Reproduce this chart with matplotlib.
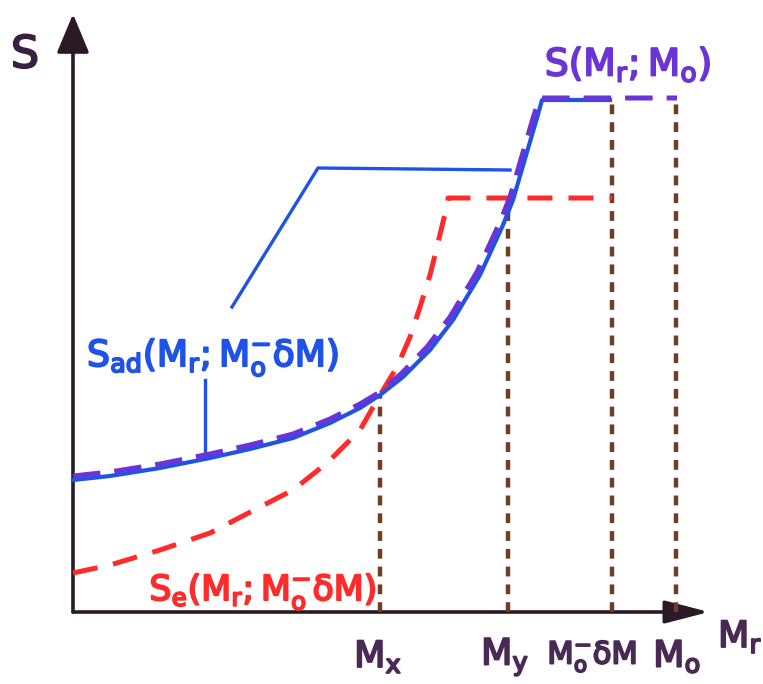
import matplotlib.pyplot as plt
import matplotlib.patheffects as pe
from matplotlib.patches import FancyArrowPatch

plt.rcParams['mathtext.fontset'] = 'dejavusans'

# schematic coordinates: origin at the axes corner, S upward, M_r to the right

# S_ad(M_r; M_o - dM), solid blue, saturating at the top level
ad_px = [0, 37, 87, 137, 177, 220, 257, 287, 307, 330, 357, 380, 407, 430, 440, 454, 464, 469, 537]
ad_s = [132, 136, 144, 154, 163, 174, 189, 204, 217, 235, 262, 292, 337, 387, 412, 460, 494, 512, 512]

# S(M_r; M_o), dashed purple
full_px = [0, 37, 87, 137, 177, 220, 257, 287, 307, 328, 354, 377, 404, 427, 437, 451, 461, 467, 604]
full_s = [136, 140, 148, 158, 167, 178, 193, 208, 220, 238, 265, 295, 340, 390, 415, 463, 497, 514, 514]

# S_e(M_r; M_o - dM), dashed red
e_px = [0, 37, 87, 137, 187, 220, 254, 287, 307, 324, 337, 347, 357, 364, 370, 375, 375, 539]
e_s = [39, 47, 62, 79, 105, 122, 149, 182, 217, 245, 275, 305, 337, 365, 390, 409, 414, 414]

# markers on the M_r axis and the tops of their dotted guides
mark_x = [307, 435, 539, 603]
mark_top = [217, 414, 512, 514]
label_x = [305, 432, 519, 604]
mark_labels = [r'$\mathrm{M_x}$', r'$\mathrm{M_y}$',
               r'$\mathrm{M_o^{-}δM}$', r'$\mathrm{M_o}$']
label_size = [26, 26, 22, 26]

# leader line for the adiabatic-curve label
leader_x = [159, 245, 437]
leader_y = [305, 444, 442]
stub_x = [132, 132]
stub_y = [232, 160]

fig = plt.figure(figsize=(7.63, 6.84), dpi=100)
ax = fig.add_axes([0, 0, 1, 1])
ax.set_xlim(-73, 690)
ax.set_ylim(-72, 612)
ax.axis('off')

ink = '#2b1a26'
blue = '#1f52e6'
purple = '#6a34d6'
red = '#ff2b2b'
brown = '#6e3f22'
label_ink = '#4a2a55'

# axes drawn as arrows
ax.add_patch(FancyArrowPatch((0, 0), (0, 598), arrowstyle='-|>,head_length=24,head_width=10',
                             mutation_scale=1, color=ink, lw=2.6, shrinkA=0, shrinkB=0))
ax.add_patch(FancyArrowPatch((0, 0), (636, 0), arrowstyle='-|>,head_length=27,head_width=7',
                             mutation_scale=1, color=ink, lw=2.6, shrinkA=0, shrinkB=0))

for x, top in zip(mark_x, mark_top):
    ax.plot([x, x], [0, top], color=brown, lw=3.2, ls=(0, (2.2, 1.8)),
            solid_capstyle='round', zorder=2)

ax.plot(e_px, e_s, color=red, lw=3.6, ls=(0, (5, 3.2)), zorder=3)
ax.plot(ad_px, ad_s, color=blue, lw=3.0, zorder=4, solid_joinstyle='round')
ax.plot(full_px, full_s, color=purple, lw=3.6, ls=(0, (5.5, 2.8)), zorder=5)

ax.plot(leader_x, leader_y, color=blue, lw=2.4)
ax.plot(stub_x, stub_y, color=blue, lw=2.4)


def marker_text(x, y, s, color, size):
    t = ax.text(x, y, s, color=color, fontsize=size, ha='center', va='center')
    t.set_path_effects([pe.withStroke(linewidth=1.4, foreground=color)])
    return t


# labels
marker_text(-48, 557, 'S', '#3a2040', 32)
marker_text(667, -25, r'$\mathrm{M_r}$', label_ink, 26)
for x, lab, size in zip(label_x, mark_labels, label_size):
    marker_text(x, -45, lab, label_ink, size)

marker_text(555, 547, r'$\mathrm{S(M_r;M_o)}$', purple, 27)
marker_text(140, 254, r'$\mathrm{S_{ad}(M_r;M_o^{-}δM)}$', blue, 26)
marker_text(190, 20, r'$\mathrm{S_e(M_r;M_o^{-}δM)}$', red, 25)

fig.savefig('out.png', dpi=100, facecolor='white')
